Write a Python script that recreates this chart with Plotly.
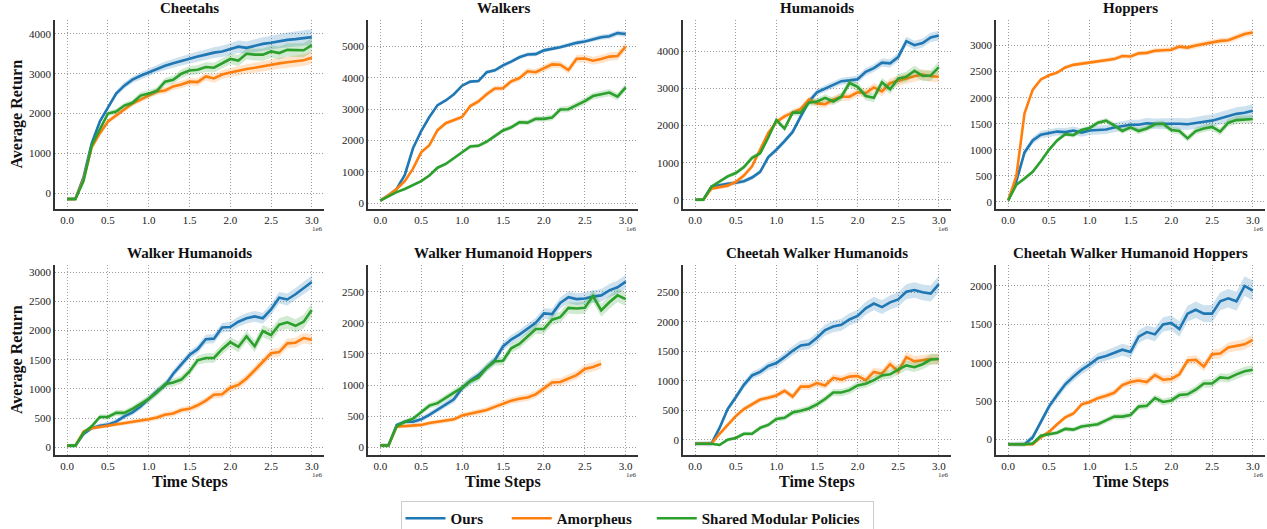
import plotly.graph_objects as go

# ---------------- data ----------------
steps = [round(i * 0.1, 1) for i in range(31)]  # time steps (x 1e6)

titles = ["Cheetahs", "Walkers", "Humanoids", "Hoppers",
          "Walker Humanoids", "Walker Humanoid Hoppers",
          "Cheetah Walker Humanoids", "Cheetah Walker Humanoid Hoppers"]

series_names = ["Ours", "Amorpheus", "Shared Modular Policies"]

cheetahs_ours = [-150, -150, 400, 1250, 1800, 2150, 2500, 2700, 2850, 2950, 3030, 3130, 3200, 3260, 3320, 3370,
                 3430, 3480, 3530, 3560, 3620, 3680, 3650, 3700, 3750, 3780, 3820, 3850, 3870, 3900, 3920]
cheetahs_amor = [-150, -150, 350, 1150, 1500, 1800, 1950, 2100, 2250, 2350, 2450, 2550, 2580, 2680, 2730, 2800,
                 2790, 2930, 2880, 2980, 3030, 3080, 3120, 3150, 3190, 3220, 3260, 3290, 3320, 3340, 3400]
cheetahs_smp = [-150, -150, 300, 1200, 1600, 2000, 2050, 2200, 2270, 2450, 2500, 2570, 2800, 2850, 3000, 3080,
                3100, 3170, 3150, 3250, 3370, 3330, 3500, 3480, 3480, 3560, 3520, 3600, 3600, 3590, 3720]

walkers_ours = [80, 250, 450, 900, 1750, 2300, 2750, 3130, 3280, 3480, 3750, 3880, 3900, 4180, 4240, 4400,
                4520, 4660, 4750, 4760, 4880, 4920, 4980, 5050, 5120, 5160, 5240, 5300, 5330, 5430, 5400]
walkers_amor = [80, 250, 450, 700, 1100, 1620, 1850, 2330, 2550, 2650, 2750, 3100, 3250, 3480, 3660, 3670,
                3890, 3990, 4210, 4180, 4300, 4430, 4420, 4250, 4610, 4620, 4550, 4600, 4680, 4700, 5000]
walkers_smp = [80, 220, 350, 450, 570, 700, 880, 1130, 1250, 1430, 1620, 1810, 1830, 1960, 2140, 2320,
               2420, 2580, 2570, 2690, 2690, 2730, 2990, 3000, 3130, 3260, 3420, 3480, 3530, 3400, 3700]

humanoids_ours = [0, 0, 350, 400, 430, 460, 500, 600, 750, 1150, 1350, 1580, 1830, 2250, 2650, 2900,
                  3000, 3100, 3200, 3220, 3250, 3450, 3550, 3700, 3680, 3850, 4280, 4170, 4230, 4380, 4430]
humanoids_amor = [0, 0, 300, 330, 380, 480, 650, 900, 1350, 1800, 2100, 2250, 2350, 2450, 2700, 2600,
                  2580, 2700, 2780, 2780, 2900, 2880, 3030, 2920, 3150, 3200, 3270, 3330, 3380, 3330, 3320]
humanoids_smp = [0, 0, 350, 500, 630, 720, 880, 1130, 1250, 1680, 2150, 1920, 2350, 2350, 2620, 2650,
                 2750, 2650, 2780, 3150, 3050, 2800, 2750, 3170, 2980, 3270, 3320, 3480, 3340, 3350, 3580]

hoppers_ours = [30, 400, 950, 1180, 1290, 1320, 1350, 1340, 1370, 1330, 1370, 1380, 1390, 1430, 1460, 1480,
                1480, 1510, 1500, 1500, 1510, 1500, 1490, 1520, 1540, 1560, 1600, 1650, 1690, 1710, 1750]
hoppers_amor = [30, 500, 1700, 2150, 2350, 2430, 2480, 2580, 2630, 2650, 2680, 2700, 2720, 2740, 2800, 2790,
                2850, 2860, 2900, 2910, 2920, 2980, 2960, 3000, 3030, 3070, 3090, 3100, 3160, 3220, 3250]
hoppers_smp = [30, 330, 450, 580, 780, 1000, 1180, 1300, 1280, 1380, 1420, 1520, 1560, 1470, 1360, 1430,
               1360, 1410, 1490, 1500, 1380, 1360, 1220, 1360, 1410, 1440, 1350, 1520, 1570, 1580, 1590]

wh_ours = [30, 30, 230, 330, 370, 390, 440, 530, 600, 700, 830, 960, 1060, 1260, 1420, 1580,
           1680, 1850, 1860, 2050, 2060, 2150, 2210, 2240, 2210, 2360, 2560, 2530, 2620, 2730, 2830]
wh_amor = [30, 30, 270, 330, 350, 370, 390, 420, 440, 460, 480, 510, 560, 580, 640, 660,
           720, 800, 900, 910, 1020, 1070, 1180, 1320, 1460, 1610, 1630, 1780, 1790, 1870, 1840]
wh_smp = [30, 30, 250, 360, 520, 520, 590, 590, 660, 740, 830, 940, 1080, 1110, 1160, 1300,
          1490, 1530, 1530, 1680, 1800, 1720, 1900, 1730, 1990, 1920, 2100, 2140, 2080, 2150, 2350]

whh_ours = [30, 30, 360, 410, 410, 450, 520, 600, 690, 770, 950, 1070, 1160, 1280, 1400, 1620,
            1730, 1810, 1900, 2000, 2150, 2140, 2320, 2410, 2380, 2390, 2420, 2440, 2520, 2570, 2660]
whh_amor = [30, 30, 330, 340, 340, 360, 390, 410, 430, 450, 510, 540, 560, 600, 650, 700,
            750, 780, 800, 850, 940, 1040, 1050, 1100, 1160, 1260, 1290, 1340, None, None, None]
whh_smp = [30, 30, 340, 410, 460, 570, 670, 710, 800, 880, 960, 1060, 1120, 1280, 1380, 1390,
           1590, 1660, 1780, 1900, 1900, 2050, 2090, 2240, 2230, 2240, 2430, 2200, 2330, 2440, 2380]

cwh_ours = [-70, -70, -70, 200, 520, 720, 930, 1090, 1150, 1250, 1300, 1400, 1510, 1600, 1620, 1730,
            1860, 1920, 1950, 2040, 2100, 2230, 2310, 2250, 2330, 2380, 2510, 2540, 2500, 2480, 2640]
cwh_amor = [-70, -70, -70, 100, 250, 400, 520, 600, 680, 710, 750, 830, 730, 900, 900, 960,
            920, 1050, 1020, 1070, 1080, 1010, 1150, 1120, 1280, 1160, 1400, 1330, 1350, 1370, 1370]
cwh_smp = [-70, -70, -70, -90, 0, 30, 100, 100, 200, 250, 350, 370, 460, 490, 530, 600,
           690, 800, 800, 840, 920, 950, 1010, 1090, 1110, 1190, 1260, 1230, 1280, 1360, 1370]

cwhh_ours = [-60, -60, -60, 30, 230, 430, 580, 720, 820, 910, 980, 1060, 1090, 1130, 1170, 1140,
             1340, 1400, 1370, 1500, 1520, 1440, 1640, 1690, 1640, 1640, 1800, 1840, 1800, 2000, 1940]
cwhh_amor = [-60, -60, -60, -60, 30, 100, 200, 290, 340, 460, 490, 540, 570, 610, 710, 750,
             770, 750, 840, 780, 790, 850, 1030, 1040, 950, 1110, 1120, 1200, 1220, 1240, 1300]
cwhh_smp = [-60, -60, -60, -50, 50, 70, 90, 140, 130, 170, 190, 200, 250, 300, 300, 320,
            430, 440, 540, 490, 510, 580, 590, 650, 730, 730, 810, 800, 850, 890, 910]

# half-width of the shaded band per panel (Ours, Amorpheus, SMP), early and late in training
band_early = [[40, 40, 40], [30, 40, 30], [40, 40, 40], [60, 30, 30],
              [30, 20, 30], [30, 20, 30], [40, 30, 20], [30, 20, 20]]
band_late = [[200, 150, 180], [90, 140, 120], [130, 150, 150], [130, 60, 80],
             [110, 90, 120], [110, 80, 110], [140, 90, 90], [130, 70, 60]]

panel_series = [
    [cheetahs_ours, cheetahs_amor, cheetahs_smp],
    [walkers_ours, walkers_amor, walkers_smp],
    [humanoids_ours, humanoids_amor, humanoids_smp],
    [hoppers_ours, hoppers_amor, hoppers_smp],
    [wh_ours, wh_amor, wh_smp],
    [whh_ours, whh_amor, whh_smp],
    [cwh_ours, cwh_amor, cwh_smp],
    [cwhh_ours, cwhh_amor, cwhh_smp],
]

y_ranges = [[-400, 4350], [-190, 5850], [-250, 4850], [-135, 3490],
            [-130, 3120], [-123, 2928], [-260, 2964], [-200, 2273]]
y_ticks = [[0, 1000, 2000, 3000, 4000], [0, 1000, 2000, 3000, 4000, 5000],
           [0, 1000, 2000, 3000, 4000], [0, 500, 1000, 1500, 2000, 2500, 3000],
           [0, 500, 1000, 1500, 2000, 2500, 3000], [0, 500, 1000, 1500, 2000, 2500],
           [0, 500, 1000, 1500, 2000, 2500], [0, 500, 1000, 1500, 2000]]
x_ticks = [0.0, 0.5, 1.0, 1.5, 2.0, 2.5, 3.0]
x_ticktext = ["0.0", "0.5", "1.0", "1.5", "2.0", "2.5", "3.0"]

# ---------------- style ----------------
W, H = 1267, 529
colors = ["#1f77b4", "#ff7f0e", "#2ca02c"]
fills = ["rgba(31,119,180,0.22)", "rgba(255,127,14,0.22)", "rgba(44,160,44,0.22)"]
FONT = "Liberation Serif"
legend_pad = [5, 4, 2]  # trailing spaces to mimic the reference legend spacing

col_px = [(55, 324), (368, 638), (683, 951), (996, 1265)]
row_px = [(20, 209), (265, 455)]

fig = go.Figure()
annotations = []

for p in range(8):
    r, c = divmod(p, 4)
    xa = "x" if p == 0 else f"x{p + 1}"
    ya = "y" if p == 0 else f"y{p + 1}"
    for s in range(3):
        vals = panel_series[p][s]
        xs = [x for x, v in zip(steps, vals) if v is not None]
        vs = [v for v in vals if v is not None]
        e, l = band_early[p][s], band_late[p][s]
        hw = [e + (l - e) * x / 3.0 for x in xs]
        up = [v + h for v, h in zip(vs, hw)]
        lo = [v - h for v, h in zip(vs, hw)]
        fig.add_trace(go.Scatter(x=xs + xs[::-1], y=up + lo[::-1], fill="toself",
                                 fillcolor=fills[s], line=dict(width=0), mode="lines",
                                 hoverinfo="skip", showlegend=False, xaxis=xa, yaxis=ya))
        fig.add_trace(go.Scatter(x=xs, y=vs, mode="lines",
                                 name=f"<b>{series_names[s]}</b>" + "\u00a0" * legend_pad[s],
                                 line=dict(color=colors[s], width=2.6),
                                 showlegend=(p == 0), legendgroup=series_names[s],
                                 xaxis=xa, yaxis=ya))
    x0, x1 = col_px[c]
    yt, yb = row_px[r]
    axis_common = dict(showline=True, linecolor="#333", linewidth=1.5, mirror=False,
                       showgrid=True, gridcolor="#9a9a9a", griddash="1px,2px", gridwidth=1.2,
                       zeroline=False, ticks="",
                       tickfont=dict(family=FONT, size=11, color="#222"))
    fig.layout[("xaxis" if p == 0 else f"xaxis{p + 1}")] = dict(
        axis_common, domain=[x0 / W, x1 / W], anchor=ya, range=[-0.15, 3.15],
        tickvals=x_ticks, ticktext=x_ticktext)
    fig.layout[("yaxis" if p == 0 else f"yaxis{p + 1}")] = dict(
        axis_common, domain=[1 - yb / H, 1 - yt / H], anchor=xa, range=y_ranges[p],
        tickvals=y_ticks[p], ticktext=[str(t) for t in y_ticks[p]])
    # title
    annotations.append(dict(text=f"<b>{titles[p]}</b>", x=(x0 + x1) / 2 / W, y=1 - (yt - 12) / H,
                            xref="paper", yref="paper", showarrow=False, xanchor="center",
                            yanchor="middle", font=dict(family=FONT, size=15, color="#111")))
    # 1e6 offset label
    annotations.append(dict(text="1e6", x=(x1 - 7) / W, y=1 - (yb + 20) / H, xref="paper",
                            yref="paper", showarrow=False, xanchor="center", yanchor="middle",
                            font=dict(family=FONT, size=7, color="#333")))
    if r == 1:
        annotations.append(dict(text="<b>Time Steps</b>", x=(x0 + x1) / 2 / W, y=1 - 482 / H,
                                xref="paper", yref="paper", showarrow=False, xanchor="center",
                                yanchor="middle", font=dict(family=FONT, size=16, color="#111")))
    if c == 0:
        annotations.append(dict(text="<b>Average Return</b>", x=17 / W, y=1 - (yt + yb) / 2 / H,
                                xref="paper", yref="paper", showarrow=False, textangle=-90,
                                xanchor="center", yanchor="middle",
                                font=dict(family=FONT, size=16, color="#111")))

fig.update_layout(
    width=W, height=H, autosize=False,
    margin=dict(l=0, r=0, t=0, b=0, autoexpand=False),
    paper_bgcolor="white", plot_bgcolor="white",
    annotations=annotations,
    legend=dict(orientation="h", x=637 / W, xanchor="center", y=1 - 501 / H, yanchor="top",
                font=dict(family=FONT, size=15, color="#111"),
                bordercolor="#ccc", borderwidth=1, bgcolor="white",
                itemwidth=40, tracegroupgap=0),
    showlegend=True,
)

page_fix = (
    "var s=document.createElement('style');"
    "s.textContent='html,body{margin:0!important;padding:0!important;overflow:hidden!important;}';"
    "document.head.appendChild(s);"
)

fig.write_html("out.html", config={"responsive": False, "displayModeBar": False},
               post_script=page_fix)
